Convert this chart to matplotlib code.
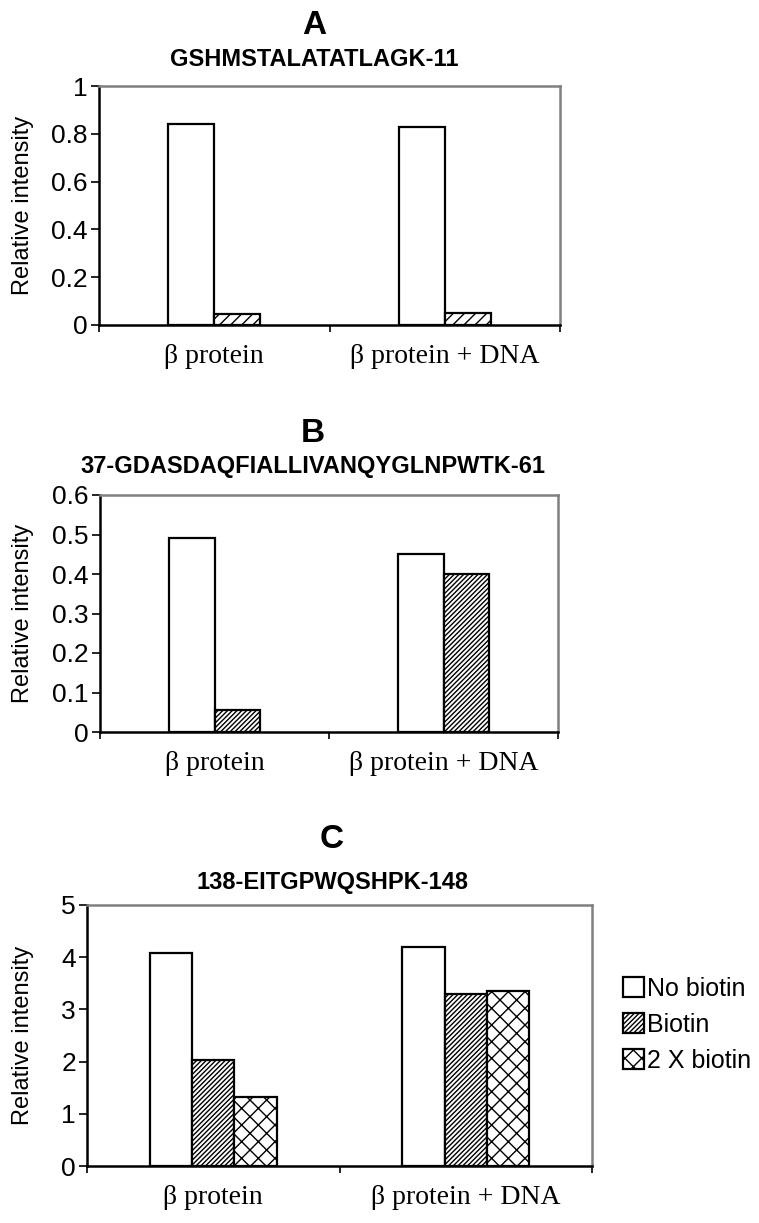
#bar charts of relative intensity for three peptides (A, B, C)
import numpy as np
import matplotlib
matplotlib.use('Agg')
import matplotlib.pyplot as plt

plt.rcParams['font.family'] = ['Liberation Sans', 'DejaVu Sans']
plt.rcParams['hatch.linewidth'] = 1.0

W, H = 759, 1223

#data
categories = ['β protein', 'β protein + DNA']
series_names = ['No biotin', 'Biotin', '2 X biotin']

a_no_biotin = [0.84, 0.83]
a_biotin = [0.045, 0.05]

b_no_biotin = [0.49, 0.45]
b_biotin = [0.055, 0.40]

c_no_biotin = [4.08, 4.20]
c_biotin = [2.03, 3.29]
c_biotin_2x = [1.33, 3.35]

panels = [
    dict(letter='A', peptide='GSHMSTALATATLAGK-11',
         series=[a_no_biotin, a_biotin], hatches=[None, '///'],
         ymax=1.0, yticks=[0, 0.2, 0.4, 0.6, 0.8, 1], ytl=['0', '0.2', '0.4', '0.6', '0.8', '1'],
         box=(99, 560, 86, 325), title_x=314, title_y=26, sub_y=59),
    dict(letter='B', peptide='37-GDASDAQFIALLIVANQYGLNPWTK-61',
         series=[b_no_biotin, b_biotin], hatches=[None, '///////'],
         ymax=0.6, yticks=[0, 0.1, 0.2, 0.3, 0.4, 0.5, 0.6], ytl=['0', '0.1', '0.2', '0.3', '0.4', '0.5', '0.6'],
         box=(100, 558, 495, 732), title_x=313, title_y=433, sub_y=467),
    dict(letter='C', peptide='138-EITGPWQSHPK-148',
         series=[c_no_biotin, c_biotin, c_biotin_2x], hatches=[None, '///////', 'xx'],
         ymax=5, yticks=[0, 1, 2, 3, 4, 5], ytl=['0', '1', '2', '3', '4', '5'],
         box=(87, 592, 905, 1166), title_x=332, title_y=839, sub_y=882),
]

fig = plt.figure(figsize=(W / 100, H / 100), dpi=100)
fig.patch.set_facecolor('white')

x = np.arange(len(categories))

for p in panels:
    l, r, t, b = p['box']
    ax = fig.add_axes([l / W, 1 - b / H, (r - l) / W, (b - t) / H])
    n = len(p['series'])
    w = 0.2 if n == 2 else 0.167
    offs = (np.arange(n) - (n - 1) / 2) * w
    for i, vals in enumerate(p['series']):
        ax.bar(x + offs[i], vals, width=w, color='white', edgecolor='black',
               linewidth=1.6, hatch=p['hatches'][i], label=series_names[i], zorder=3)

    ax.set_xlim(-0.5, 1.5)
    ax.set_ylim(0, p['ymax'])
    ax.set_yticks(p['yticks'])
    ax.set_yticklabels(p['ytl'], fontsize=19)
    ax.tick_params(axis='y', length=6, width=1.2, pad=2, direction='out')

    #category labels in serif, small ticks between groups
    ax.set_xticks(x)
    ax.set_xticklabels(categories, fontsize=20, family='Liberation Serif')
    ax.tick_params(axis='x', which='major', length=0, pad=14)
    ax.set_xticks([-0.5, 0.5, 1.5], minor=True)
    ax.tick_params(axis='x', which='minor', length=5, width=1.2, direction='out')

    for s in ['left', 'bottom']:
        ax.spines[s].set_linewidth(1.8)
        ax.spines[s].set_color('black')
    for s in ['top', 'right']:
        ax.spines[s].set_linewidth(1.8)
        ax.spines[s].set_color('#808080')

    #panel letter and peptide name
    fig.text(p['title_x'] / W, 1 - p['title_y'] / H, p['letter'], fontsize=24,
             fontweight='bold', ha='center', va='center')
    fig.text(p['title_x'] / W, 1 - p['sub_y'] / H, p['peptide'], fontsize=17,
             fontweight='bold', ha='center', va='center')
    fig.text(23 / W, 1 - (t + b) / 2 / H, 'Relative intensity', fontsize=17,
             rotation=90, ha='center', va='center')

    if p['letter'] == 'C':
        fig.legend(*ax.get_legend_handles_labels(), loc='center left',
                   bbox_to_anchor=(613 / W, 1 - 1025 / H), frameon=False,
                   fontsize=18, handlelength=0.85, handleheight=0.85,
                   handletextpad=0.1, labelspacing=0.48, borderaxespad=0)

plt.savefig('out.png', dpi=100)
